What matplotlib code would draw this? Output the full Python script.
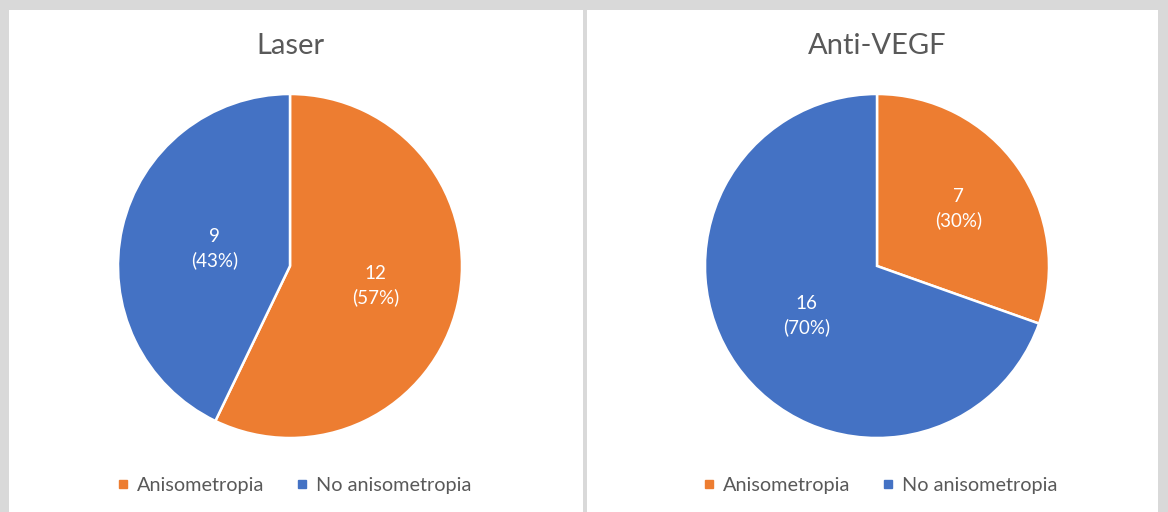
import matplotlib
matplotlib.use("Agg")
import matplotlib.pyplot as plt
from matplotlib.patches import Rectangle
from matplotlib.lines import Line2D
import numpy as np

plt.rcParams['font.family'] = ['Lato', 'DejaVu Sans']

categories = ["Anisometropia", "No anisometropia"]
titles = ["Laser", "Anti-VEGF"]
laser_values = [12, 9]
antivegf_values = [7, 16]
percent_labels_laser = ["57%", "43%"]
percent_labels_antivegf = ["30%", "70%"]

colors = ["#ED7D31", "#4472C4"]
text_gray = "#595959"

W, H = 1168, 512
fig = plt.figure(figsize=(W / 100, H / 100), dpi=100)
fig.patch.set_facecolor("#d9d9d9")

# white panels
for (x0, x1) in [(9, 583), (587, 1158)]:
    fig.patches.append(Rectangle((x0 / W, 0), (x1 - x0) / W, (H - 10) / H,
                                 transform=fig.transFigure, facecolor="white",
                                 edgecolor="none", zorder=-10))

panels = [
    (titles[0], laser_values, percent_labels_laser, 290, [0.51, 0.45], 294),
    (titles[1], antivegf_values, percent_labels_antivegf, 877, [0.58, 0.50], 880),
]
cy, R = 266, 172

for title, vals, pcts, cx, rf, legx in panels:
    ax = fig.add_axes([(cx - R) / W, (H - cy - R) / H, 2 * R / W, 2 * R / H])
    ax.set_zorder(5)
    wedges, _ = ax.pie(vals, colors=colors, startangle=90, counterclock=False,
                       radius=1.0,
                       wedgeprops=dict(edgecolor="white", linewidth=1.8))
    ax.set_xlim(-1.0, 1.0)
    ax.set_ylim(-1.0, 1.0)
    ax.set_aspect("equal")
    ax.axis("off")
    for w, v, p, f in zip(wedges, vals, pcts, rf):
        ang = np.deg2rad((w.theta1 + w.theta2) / 2)
        ax.text(f * np.cos(ang), f * np.sin(ang), f"{v}\n({p})",
                ha="center", va="center", color="white", fontsize=13.5,
                linespacing=1.45)
    fig.text(cx / W, 1 - 46 / H, title, ha="center", va="center",
             color=text_gray, fontsize=21)
    handles = [Line2D([], [], marker="s", ls="", color=c, markersize=5.5)
               for c in colors]
    fig.legend(handles, categories, loc="center", bbox_to_anchor=(legx / W, 1 - 485 / H),
               ncol=2, frameon=False, fontsize=14.3, labelcolor=text_gray,
               handlelength=0.6, handletextpad=0.4, columnspacing=1.6)

fig.savefig("out.png", dpi=100, facecolor=fig.get_facecolor())
